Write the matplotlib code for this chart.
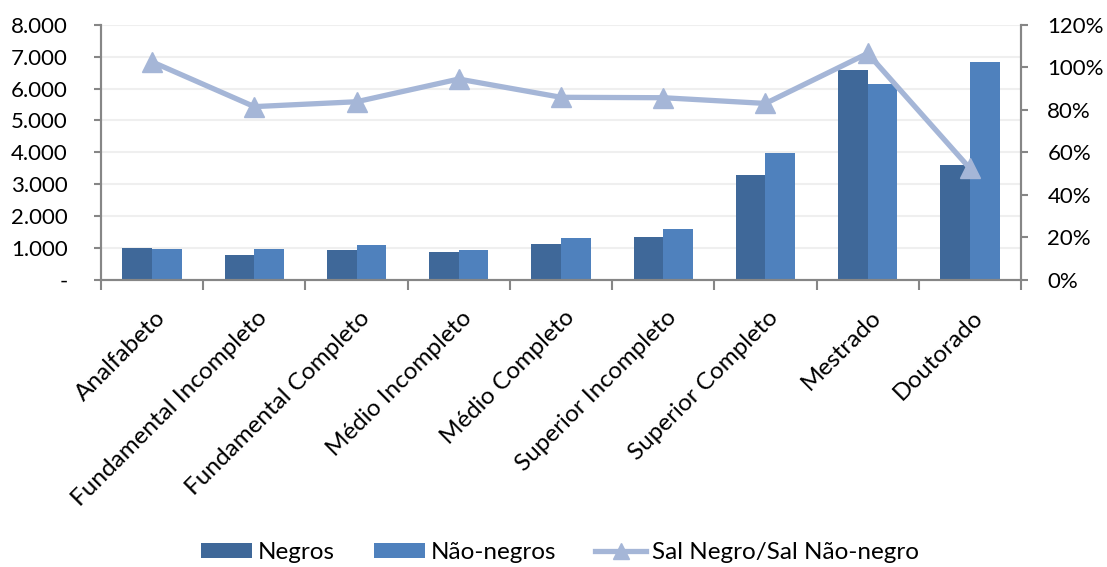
import matplotlib
matplotlib.use("Agg")
import matplotlib.pyplot as plt
import numpy as np
from matplotlib.ticker import FuncFormatter, MultipleLocator
from matplotlib.lines import Line2D
from matplotlib.patches import Patch

plt.rcParams['font.family'] = ['Lato', 'DejaVu Sans']

categorias = ["Analfabeto", "Fundamental Incompleto", "Fundamental Completo",
              "Médio Incompleto", "Médio Completo", "Superior Incompleto",
              "Superior Completo", "Mestrado", "Doutorado"]
negros = [1000, 785, 920, 880, 1110, 1350, 3300, 6570, 3585]
nao_negros = [975, 965, 1100, 930, 1290, 1580, 3970, 6140, 6820]
razao = [1.026, 0.815, 0.838, 0.945, 0.859, 0.857, 0.830, 1.066, 0.524]

cor_negros = "#3F6899"
cor_nao_negros = "#4F81BD"
cor_razao = "#A5B6D7"
cor_eixo = "#868686"

fig = plt.figure(figsize=(11.07, 5.67), dpi=100)
ax = fig.add_axes([0.0912, 0.507, 0.8311, 0.449])
ax2 = ax.twinx()

x = np.arange(len(categorias))
w = 0.29
ax.bar(x - w / 2, negros, w, color=cor_negros, zorder=2)
ax.bar(x + w / 2, nao_negros, w, color=cor_nao_negros, zorder=2)

ax2.plot(x, razao, color=cor_razao, lw=3.8, marker="^", markersize=15,
         markeredgecolor=cor_razao, markerfacecolor=cor_razao, zorder=3)

ax.set_xlim(-0.5, len(categorias) - 0.5)
ax.set_ylim(0, 8000)
ax2.set_ylim(0, 1.2)

ax.yaxis.set_major_locator(MultipleLocator(1000))
ax.yaxis.set_major_formatter(FuncFormatter(
    lambda v, p: "-" if v == 0 else f"{v:,.0f}".replace(",", ".")))
ax2.yaxis.set_major_locator(MultipleLocator(0.2))
ax2.yaxis.set_major_formatter(FuncFormatter(lambda v, p: f"{v * 100:.0f}%"))

ax.grid(axis="y", color="#EFEFEF", lw=1.5, zorder=0)
ax.set_axisbelow(True)

# category boundaries carry the x ticks
ax.set_xticks(np.arange(-0.5, len(categorias), 1.0))
ax.set_xticklabels([])
ax.tick_params(axis="x", direction="out", length=7, width=1.5, color=cor_eixo)
ax.tick_params(axis="y", direction="out", length=5, width=1.5, color=cor_eixo,
               labelsize=16, pad=19)
ax2.tick_params(axis="y", direction="out", length=5, width=1.5, color=cor_eixo,
                labelsize=16, pad=14)

for a in (ax, ax2):
    a.spines["top"].set_visible(False)
    for s in ("left", "right", "bottom"):
        a.spines[s].set_color(cor_eixo)
        a.spines[s].set_linewidth(1.5)

for xi, nome in zip(x, categorias):
    ax.annotate(nome, xy=(xi, 0), xycoords=("data", "axes fraction"),
                xytext=(7, -25), textcoords="offset points",
                rotation=45, ha="right", va="center", rotation_mode="anchor",
                fontsize=17.5, color="black")

handles = [Patch(facecolor=cor_negros, label="Negros"),
           Patch(facecolor=cor_nao_negros, label="Não-negros"),
           Line2D([0], [0], color=cor_razao, lw=3.8, marker="^", markersize=11,
                  label="Sal Negro/Sal Não-negro")]
fig.legend(handles=handles, loc="center", bbox_to_anchor=(0.506, 0.025),
           ncol=3, frameon=False, fontsize=17.5, handlelength=2.1,
           handleheight=0.6, columnspacing=1.6, handletextpad=0.25)

fig.savefig("out.png", dpi=100)
